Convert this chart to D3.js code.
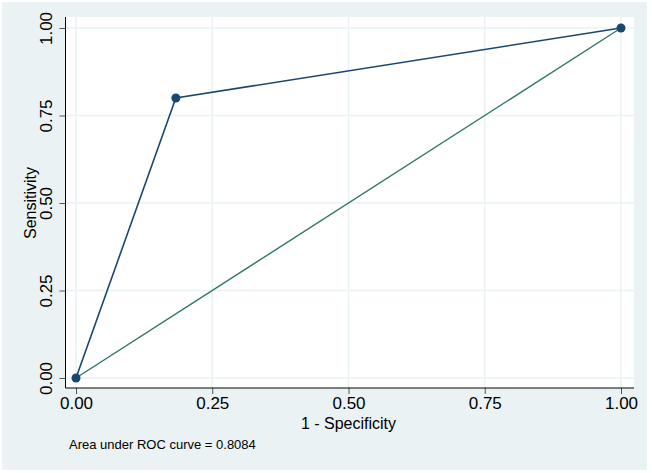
<!DOCTYPE html>
<html>
<head>
<meta charset="utf-8">
<script src="https://cdn.jsdelivr.net/npm/d3@7"></script>
<style>
  body { margin: 0; background: #fff; }
  text { font-family: "Liberation Sans", Arial, sans-serif; }
</style>
</head>
<body>
<svg id="chart" width="652" height="473"></svg>
<script>
// roc points
var fpr = [0, 0.1832, 1],
    sens = [0, 0.8, 1],
    ticks = [0, 0.25, 0.5, 0.75, 1],
    note = "Area under ROC curve = 0.8084";

var svg = d3.select("#chart");

// panel background
svg.append("rect")
    .attr("x", 2).attr("y", 2)
    .attr("width", 645).attr("height", 468)
    .attr("fill", "#eaf2f3");

var plot = {left: 66, top: 17, right: 634, bottom: 388};

svg.append("rect")
    .attr("x", plot.left).attr("y", plot.top)
    .attr("width", plot.right - plot.left).attr("height", plot.bottom - plot.top)
    .attr("fill", "#fff");

var x = d3.scaleLinear().domain([0, 1]).range([76, 621]);
var y = d3.scaleLinear().domain([0, 1]).range([378, 28]);

// grid
svg.append("g").selectAll("line").data(ticks).enter().append("line")
    .attr("x1", function(d) { return x(d); }).attr("x2", function(d) { return x(d); })
    .attr("y1", plot.top).attr("y2", plot.bottom)
    .attr("stroke", "#eaf2f3").attr("stroke-width", 1.5);

svg.append("g").selectAll("line").data(ticks).enter().append("line")
    .attr("y1", function(d) { return y(d); }).attr("y2", function(d) { return y(d); })
    .attr("x1", plot.left).attr("x2", plot.right)
    .attr("stroke", "#eaf2f3").attr("stroke-width", 1.5);

// x axis
var xAxis = svg.append("g")
    .attr("transform", "translate(0," + plot.bottom + ")")
    .call(d3.axisBottom(x).tickValues(ticks).tickFormat(d3.format(".2f")).tickSize(6).tickPadding(3));
xAxis.select(".domain").remove();
xAxis.append("line").attr("x1", plot.left - 0.5).attr("x2", plot.right).attr("stroke", "#000");
xAxis.selectAll(".tick line").attr("stroke", "#555");
xAxis.selectAll(".tick text").attr("font-size", 17).attr("fill", "#000");

// y axis
var yAxis = svg.append("g")
    .attr("transform", "translate(" + (plot.left - 0.5) + ",0)")
    .call(d3.axisLeft(y).tickValues(ticks).tickFormat(d3.format(".2f")).tickSize(6).tickPadding(0));
yAxis.select(".domain").remove();
yAxis.append("line").attr("y1", plot.top).attr("y2", plot.bottom).attr("stroke", "#000");
yAxis.selectAll(".tick line").attr("stroke", "#555");
yAxis.selectAll(".tick text")
    .attr("font-size", 17).attr("fill", "#000")
    .attr("x", null).attr("dy", null)
    .attr("text-anchor", "middle")
    .attr("transform", "translate(-14,0) rotate(-90)");

// axis titles
svg.append("text")
    .attr("x", x(0.5)).attr("y", 429)
    .attr("text-anchor", "middle").attr("font-size", 16)
    .text("1 - Specificity");

svg.append("text")
    .attr("transform", "translate(36," + y(0.5) + ") rotate(-90)")
    .attr("text-anchor", "middle").attr("font-size", 16)
    .text("Sensitivity");

svg.append("text")
    .attr("x", 69).attr("y", 449)
    .attr("font-size", 13)
    .text(note);

// reference line
svg.append("line")
    .attr("x1", x(0)).attr("y1", y(0))
    .attr("x2", x(1)).attr("y2", y(1))
    .attr("stroke", "#2f7566").attr("stroke-width", 1.4);

// roc curve
var pts = fpr.map(function(d, i) { return {x: d, y: sens[i]}; });
var line = d3.line()
    .x(function(d) { return x(d.x); })
    .y(function(d) { return y(d.y); });

svg.append("path")
    .datum(pts)
    .attr("fill", "none")
    .attr("stroke", "#1a476f")
    .attr("stroke-width", 1.6)
    .attr("d", line);

svg.append("g").selectAll("circle").data(pts).enter().append("circle")
    .attr("cx", function(d) { return x(d.x); })
    .attr("cy", function(d) { return y(d.y); })
    .attr("r", 4.5)
    .attr("fill", "#1a476f");
</script>
</body>
</html>
